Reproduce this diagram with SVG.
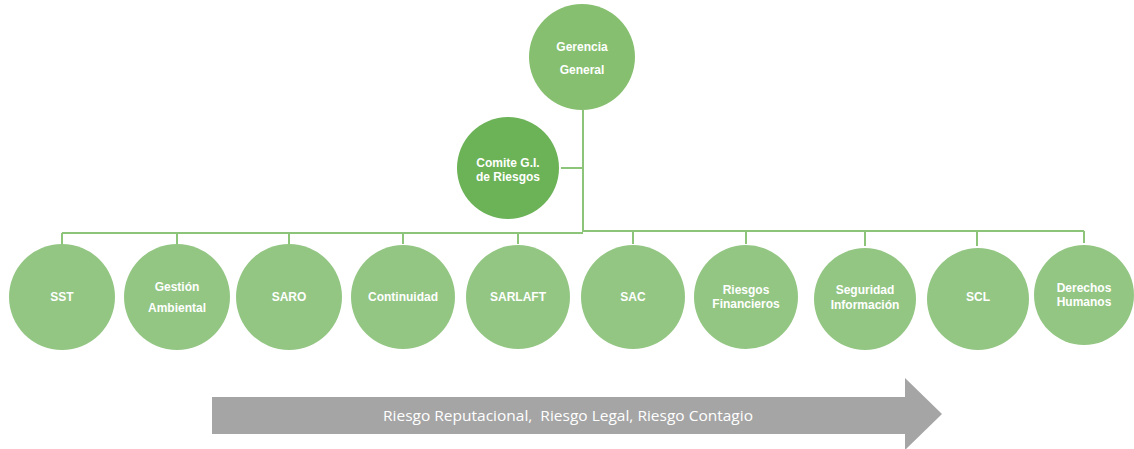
<svg xmlns="http://www.w3.org/2000/svg" width="1134" height="449" viewBox="0 0 1134 449">
<style>
.top{fill:#86bf6f}
.com{fill:#6cb257}
.kid{fill:#93c683}
.lbl{font-family:"Liberation Sans",Arial,sans-serif;font-weight:bold;font-size:12px;fill:#ffffff;text-anchor:middle}
.con{stroke:#8cc47a;stroke-width:2;fill:none}
.arr{fill:#a5a5a5}
.atxt{font-family:"Open Sans","Liberation Sans",sans-serif;font-size:14px;fill:#ffffff;text-anchor:middle}
</style>
<rect width="1134" height="449" fill="#ffffff"/>
<g id="connectors">
<path class="con" d="M583,110 V232 M561,168 H583 M62,233 H583 M583,231 H1084"/>
<path class="con" d="M62,233 V244 M177,233 V244 M289,233 V244 M403,233 V244 M518,233 V244 M633,231 V244 M746,231 V244 M865,231 V246 M977,231 V246 M1084,231 V243"/>
</g>
<g id="gerencia"><circle class="top" cx="582" cy="57" r="53"/><text class="lbl" x="582" y="51">Gerencia</text><text class="lbl" x="582" y="74">General</text></g>
<g id="comite"><circle class="com" cx="508" cy="168" r="51"/><text class="lbl" x="508" y="167">Comite G.I.</text><text class="lbl" x="508" y="181">de Riesgos</text></g>
<g id="sst"><circle class="kid" cx="62" cy="297" r="53"/><text class="lbl" x="62" y="301">SST</text></g>
<g id="gestion"><circle class="kid" cx="177" cy="297" r="53"/><text class="lbl" x="177" y="291">Gestión</text><text class="lbl" x="177" y="312">Ambiental</text></g>
<g id="saro"><circle class="kid" cx="289" cy="297" r="53"/><text class="lbl" x="289" y="301">SARO</text></g>
<g id="continuidad"><circle class="kid" cx="403" cy="297" r="52"/><text class="lbl" x="403" y="301">Continuidad</text></g>
<g id="sarlaft"><circle class="kid" cx="518" cy="297" r="52"/><text class="lbl" x="518" y="301">SARLAFT</text></g>
<g id="sac"><circle class="kid" cx="633" cy="297" r="52"/><text class="lbl" x="633" y="301">SAC</text></g>
<g id="financieros"><circle class="kid" cx="746" cy="297" r="52"/><text class="lbl" x="746" y="294">Riesgos</text><text class="lbl" x="746" y="308">Financieros</text></g>
<g id="seguridad"><circle class="kid" cx="865" cy="299" r="51"/><text class="lbl" x="865" y="294">Seguridad</text><text class="lbl" x="865" y="309">Información</text></g>
<g id="scl"><circle class="kid" cx="978" cy="299" r="51"/><text class="lbl" x="978" y="301">SCL</text></g>
<g id="derechos"><circle class="kid" cx="1084" cy="295" r="50"/><text class="lbl" x="1084" y="292">Derechos</text><text class="lbl" x="1084" y="306">Humanos</text></g>
<g id="arrow"><polygon class="arr" points="212,397 905,397 905,378 942,414 905,450 905,434 212,434"/><text class="atxt" x="568" y="421" textLength="370" lengthAdjust="spacingAndGlyphs" xml:space="preserve">Riesgo Reputacional,  Riesgo Legal, Riesgo Contagio</text></g>
</svg>
